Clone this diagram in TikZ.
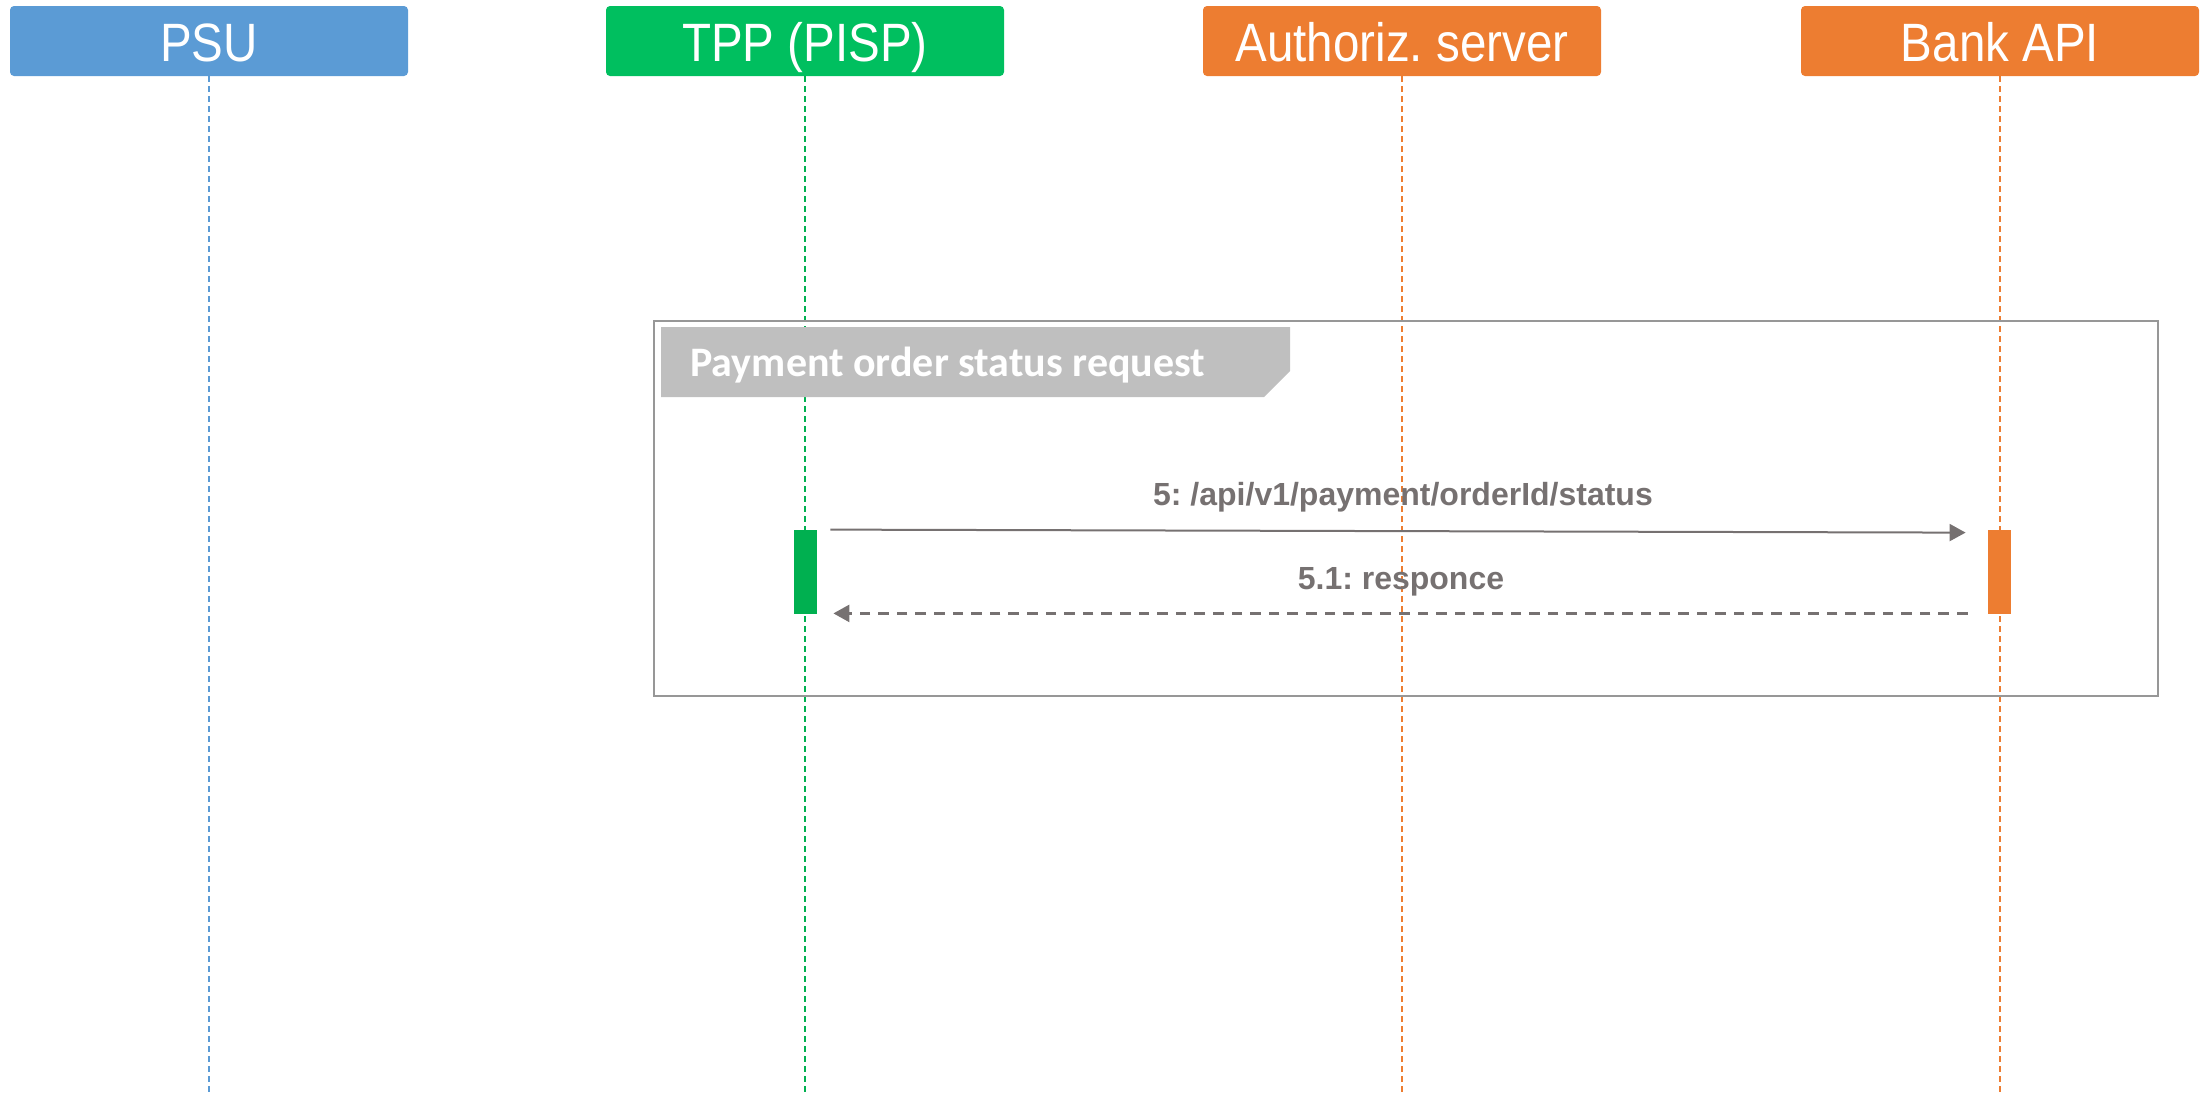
\documentclass[tikz,border=0pt]{standalone}
\usepackage{fontspec}
\setmainfont{Liberation Sans}
\newfontfamily\calibri{Carlito}
\newfontfamily\boxfont[FakeStretch=0.88]{Liberation Sans}
\usetikzlibrary{arrows.meta}
\frenchspacing
\definecolor{psublue}{HTML}{5B9BD5}
\definecolor{tppgreen}{HTML}{00BF5F}
\definecolor{actgreen}{HTML}{00B050}
\definecolor{orng}{HTML}{ED7D31}
\definecolor{msggray}{HTML}{767171}
\definecolor{tabgray}{HTML}{BFBFBF}
\definecolor{framegray}{HTML}{979797}
\tikzset{
  actor/.style={rectangle, rounded corners=2pt, minimum width=199pt, minimum height=35pt, inner sep=0pt, text=white},
  actorlabel/.style={inner sep=0pt, anchor=base, text=white, font=\frenchspacing\boxfont\fontsize{27}{32}\selectfont},
  lifeline/.style={line width=0.75pt, dash pattern=on 3pt off 2pt},
  actbar/.style={rectangle, minimum width=11.5pt, minimum height=42pt, inner sep=0pt},
  msg/.style={draw=msggray, line width=1pt, -{Triangle[length=8pt, width=8.5pt]}},
  reply/.style={draw=msggray, line width=1.3pt, dash pattern=on 5.3pt off 4pt, -{Triangle[length=8pt, width=8.5pt]}},
  msglabel/.style={text=msggray, font=\frenchspacing\bfseries\fontsize{16}{19}\selectfont, inner sep=0pt, anchor=base},
}
\begin{document}
\begin{tikzpicture}[x=0.5pt, y=-0.5pt]
\useasboundingbox (0,0) rectangle (2206,1094);
% actors
\node[actor, fill=psublue] (psu) at (209,41) {};
\node[actor, fill=tppgreen] (tpp) at (805,41) {};
\node[actor, fill=orng] (auth) at (1402,41) {};
\node[actor, fill=orng] (bank) at (2000,41) {};
\node[actorlabel] (psuL) at (209,61) {PSU};
\node[actorlabel] (tppL) at (805,61) {TPP (PISP)};
\node[actorlabel] (authL) at (1402,61) {Authoriz. server};
\node[actorlabel] (bankL) at (2000,61) {Bank API};
% lifeline ends
\coordinate (psuEnd) at (209,1094);
\coordinate (tppEnd) at (805,1094);
\coordinate (authEnd) at (1402,1094);
\coordinate (bankEnd) at (2000,1094);
\draw[lifeline, draw=psublue] (psu.south) -- (psuEnd);
\draw[lifeline, draw=actgreen] (tpp.south) -- (tppEnd);
\draw[lifeline, draw=orng] (auth.south) -- (authEnd);
\draw[lifeline, draw=orng] (bank.south) -- (bankEnd);
% frame
\node[draw=framegray, line width=0.9pt, rectangle, minimum width=752pt, minimum height=187.5pt, inner sep=0pt] (frame) at (1406,508.5) {};
\fill[tabgray] (661,327) -- (1290,327) -- (1290,371) -- (1264,397) -- (661,397) -- cycle;
\node[anchor=base west, inner sep=0pt, text=white, font=\calibri\bfseries\fontsize{21}{25}\selectfont] (tablabel) at (690,376) {Payment order status request};
% activations
\node[actbar, fill=actgreen] (tppact) at (805.5,572) {};
\node[actbar, fill=orng] (bankact) at (1999.5,572) {};
% messages
\draw[msg] ([xshift=6.5pt]tppact.north east) -- ([xshift=-11pt, yshift=-1.5pt]bankact.north west);
\node[msglabel] (m1) at (1403,505) {5: /api/v1/payment/orderId/status};
\draw[reply] ([xshift=-10pt, yshift=0.5pt]bankact.south west) -- ([xshift=8pt, yshift=0.5pt]tppact.south east);
\node[msglabel] (m2) at (1401,589) {5.1: responce};
\end{tikzpicture}
\end{document}
